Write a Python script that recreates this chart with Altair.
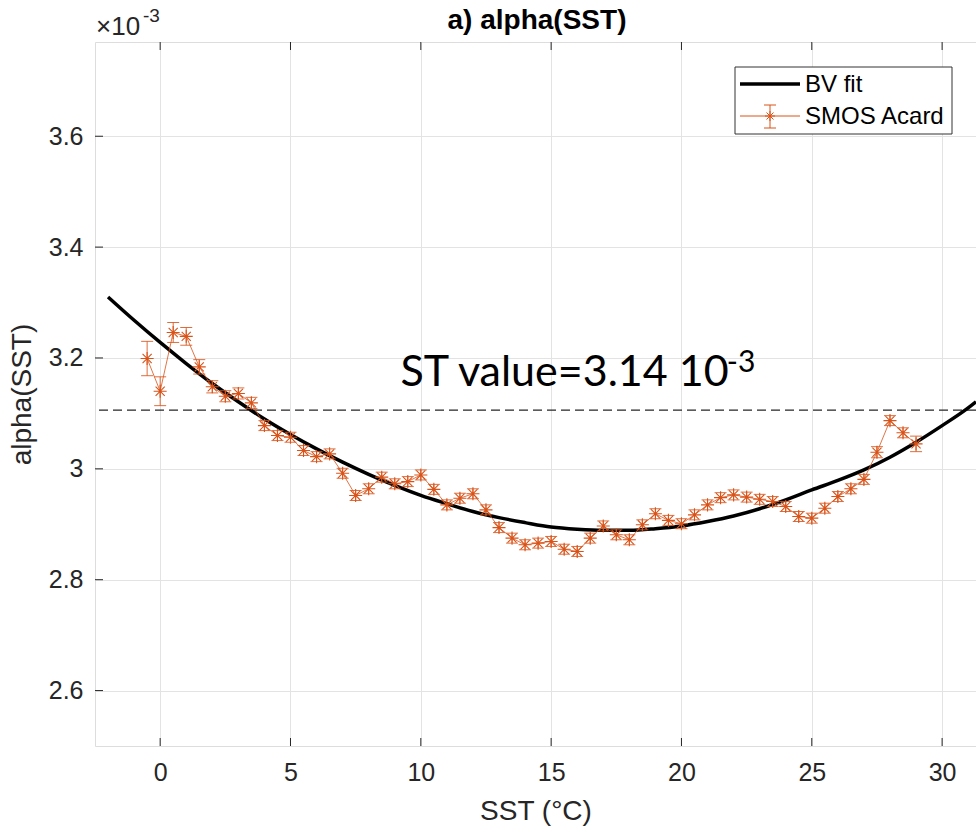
import altair as alt
import pandas as pd

# BV fit curve
fit_x = [-2, -1, 0, 1, 2, 3, 4, 5, 6, 7, 8, 9, 10, 11, 12, 13, 14, 15, 16, 17,
         18, 19, 20, 21, 22, 23, 24, 25, 26, 27, 28, 29, 30, 31, 31.3]
fit_y = [3.310, 3.268, 3.228, 3.190, 3.154, 3.121, 3.090, 3.062, 3.036, 3.012,
         2.990, 2.970, 2.952, 2.937, 2.923, 2.912, 2.903, 2.895, 2.891, 2.889,
         2.889, 2.892, 2.897, 2.905, 2.915, 2.928, 2.944, 2.962, 2.979, 2.998,
         3.021, 3.048, 3.078, 3.110, 3.121]

# SMOS Acard points with error bars
smos_x = [-0.5, 0, 0.5, 1, 1.5, 2, 2.5, 3, 3.5, 4, 4.5, 5, 5.5, 6, 6.5, 7, 7.5, 8,
          8.5, 9, 9.5, 10, 10.5, 11, 11.5, 12, 12.5, 13, 13.5, 14, 14.5, 15, 15.5,
          16, 16.5, 17, 17.5, 18, 18.5, 19, 19.5, 20, 20.5, 21, 21.5, 22, 22.5, 23,
          23.5, 24, 24.5, 25, 25.5, 26, 26.5, 27, 27.5, 28, 28.5, 29]
smos_y = [3.199, 3.140, 3.246, 3.239, 3.184, 3.148, 3.131, 3.136, 3.119, 3.078,
          3.060, 3.057, 3.033, 3.022, 3.027, 2.992, 2.952, 2.964, 2.985, 2.973,
          2.977, 2.989, 2.963, 2.935, 2.947, 2.955, 2.926, 2.894, 2.875, 2.863,
          2.866, 2.869, 2.855, 2.851, 2.875, 2.897, 2.881, 2.872, 2.899, 2.919,
          2.907, 2.901, 2.917, 2.935, 2.948, 2.953, 2.949, 2.945, 2.941, 2.932,
          2.914, 2.911, 2.929, 2.950, 2.964, 2.981, 3.030, 3.087, 3.065, 3.045]
smos_err = [0.031, 0.026, 0.018, 0.016, 0.013, 0.011, 0.010, 0.010, 0.010, 0.009,
            0.009, 0.009, 0.009, 0.009, 0.009, 0.009, 0.009, 0.009, 0.009, 0.009,
            0.009, 0.009, 0.009, 0.009, 0.009, 0.009, 0.009, 0.009, 0.009, 0.009,
            0.009, 0.009, 0.009, 0.009, 0.009, 0.009, 0.009, 0.009, 0.009, 0.009,
            0.009, 0.009, 0.009, 0.009, 0.009, 0.009, 0.009, 0.009, 0.009, 0.009,
            0.009, 0.009, 0.009, 0.009, 0.009, 0.009, 0.010, 0.009, 0.009, 0.014]

st_value = [3.106]
x_ticks = [0, 5, 10, 15, 20, 25, 30]
y_ticks = [2.6, 2.8, 3.0, 3.2, 3.4, 3.6]
series = ["BV fit", "SMOS Acard"]
title_text = "a) alpha(SST)"

fit_df = pd.DataFrame({"x": fit_x, "y": fit_y})
smos_df = pd.DataFrame({"x": smos_x, "y": smos_y, "err": smos_err})
smos_df["lo"] = smos_df["y"] - smos_df["err"]
smos_df["hi"] = smos_df["y"] + smos_df["err"]
st_df = pd.DataFrame({"y": st_value})
xt_df = pd.DataFrame({"x": x_ticks})
yt_df = pd.DataFrame({"y": y_ticks})
ann_df = pd.DataFrame({"x": [9.22], "y": [3.149], "t": ["ST value=3.14 10"]})
sup_df = pd.DataFrame({"x": [21.74], "y": [3.175], "t": ["-3"]})
one = pd.DataFrame({"k": [0]})

FONT = "Liberation Sans"
TXT = "#262626"
ORANGE = "#D95319"

xs = alt.Scale(domain=[-2.5, 31.3], nice=False, zero=False)
ys = alt.Scale(domain=[2.5, 3.77], nice=False, zero=False)

xax = alt.Axis(values=x_ticks, title="SST (°C)", labelFontSize=25, titleFontSize=28,
               labelPadding=14, titlePadding=12, grid=True, ticks=False, domain=False,
               labelColor=TXT, titleColor=TXT, labelFont=FONT, titleFont=FONT,
               titleFontWeight="normal", gridColor="#e3e3e3")
yax = alt.Axis(values=y_ticks, title="alpha(SST)", labelFontSize=25, titleFontSize=28,
               labelPadding=12, titlePadding=12, grid=True, ticks=False, domain=False,
               labelColor=TXT, titleColor=TXT, labelFont=FONT, titleFont=FONT,
               titleFontWeight="normal", gridColor="#e3e3e3",
               labelExpr="datum.value == 3 ? '3' : format(datum.value, '.1f')")

X = alt.X("x:Q", scale=xs, axis=xax)
Y = alt.Y("y:Q", scale=ys, axis=yax)

fit_line = alt.Chart(fit_df).mark_line(strokeWidth=3.5, interpolate="monotone",
                                       clip=True, color="#000000").encode(x=X, y=Y)

smos_line = alt.Chart(smos_df).mark_line(strokeWidth=1, opacity=0.8, color=ORANGE).encode(
    x=alt.X("x:Q", scale=xs), y=alt.Y("y:Q", scale=ys))

err_rule = alt.Chart(smos_df).mark_rule(strokeWidth=1, color=ORANGE, opacity=0.85).encode(
    x=alt.X("x:Q", scale=xs), y=alt.Y("lo:Q", scale=ys), y2="hi:Q")
cap_lo = alt.Chart(smos_df).mark_tick(orient="horizontal", size=12, thickness=1,
                                      color=ORANGE, opacity=0.85).encode(
    x=alt.X("x:Q", scale=xs), y=alt.Y("lo:Q", scale=ys))
cap_hi = alt.Chart(smos_df).mark_tick(orient="horizontal", size=12, thickness=1,
                                      color=ORANGE, opacity=0.85).encode(
    x=alt.X("x:Q", scale=xs), y=alt.Y("hi:Q", scale=ys))

ASTERISK = "M-1,0L1,0M0,-1L0,1M-0.7,-0.7L0.7,0.7M-0.7,0.7L0.7,-0.7"
markers = alt.Chart(smos_df).mark_point(shape=ASTERISK, filled=False, size=170,
                                        strokeWidth=1.1, color=ORANGE, opacity=1).encode(
    x=alt.X("x:Q", scale=xs), y=alt.Y("y:Q", scale=ys))

st_rule = alt.Chart(st_df).mark_rule(strokeDash=[9, 5], strokeWidth=1.2, color="#262626").encode(
    y=alt.Y("y:Q", scale=ys))

# inward tick marks (MATLAB style, bottom/top/left)
tick_b = alt.Chart(xt_df).mark_rule(color=TXT, strokeWidth=1).encode(
    x=alt.X("x:Q", scale=xs), y=alt.value(704), y2=alt.value(696))
tick_t = alt.Chart(xt_df).mark_rule(color=TXT, strokeWidth=1).encode(
    x=alt.X("x:Q", scale=xs), y=alt.value(0), y2=alt.value(8))
tick_l = alt.Chart(yt_df).mark_rule(color=TXT, strokeWidth=1).encode(
    y=alt.Y("y:Q", scale=ys), x=alt.value(0), x2=alt.value(8))

ann = alt.Chart(ann_df).mark_text(align="left", baseline="alphabetic", fontSize=43,
                                  font="Lato", color="#000000").encode(
    x=alt.X("x:Q", scale=xs), y=alt.Y("y:Q", scale=ys), text="t:N")
sup = alt.Chart(sup_df).mark_text(align="left", baseline="alphabetic", fontSize=30,
                                  font="Lato", color="#000000").encode(
    x=alt.X("x:Q", scale=xs), y=alt.Y("y:Q", scale=ys), text="t:N")

# chart title and axis exponent label (decoration above the plot area)
title_mark = alt.Chart(one).mark_text(align="center", baseline="alphabetic", fontSize=28,
                                      font=FONT, fontWeight="bold", color="#000000").encode(
    x=alt.value(442), y=alt.value(-13), text=alt.value(title_text))
exp_main = alt.Chart(one).mark_text(align="left", baseline="alphabetic", fontSize=26,
                                    font=FONT, color=TXT).encode(
    x=alt.value(1), y=alt.value(-7), text=alt.value("×10"))
exp_sup = alt.Chart(one).mark_text(align="left", baseline="alphabetic", fontSize=19,
                                   font=FONT, color=TXT).encode(
    x=alt.value(48), y=alt.value(-20), text=alt.value("-3"))

# legend (drawn as decoration inside the plot area)
leg_box = alt.Chart(one).mark_rect(fill="white", stroke="#333333", strokeWidth=1).encode(
    x=alt.value(640), x2=alt.value(857), y=alt.value(25), y2=alt.value(92))
leg_fit = alt.Chart(one).mark_rule(color="#000000", strokeWidth=3.5).encode(
    x=alt.value(645), x2=alt.value(705), y=alt.value(42))
leg_smos = alt.Chart(one).mark_rule(color=ORANGE, strokeWidth=1).encode(
    x=alt.value(645), x2=alt.value(705), y=alt.value(74))
leg_err = alt.Chart(one).mark_rule(color=ORANGE, strokeWidth=1).encode(
    x=alt.value(675), y=alt.value(63), y2=alt.value(86))
leg_cap1 = alt.Chart(one).mark_rule(color=ORANGE, strokeWidth=1).encode(
    x=alt.value(669), x2=alt.value(681), y=alt.value(63))
leg_cap2 = alt.Chart(one).mark_rule(color=ORANGE, strokeWidth=1).encode(
    x=alt.value(669), x2=alt.value(681), y=alt.value(86))
leg_star = alt.Chart(one).mark_point(shape=ASTERISK, filled=False, size=100,
                                     strokeWidth=1, color=ORANGE, opacity=1).encode(
    x=alt.value(675), y=alt.value(74))
leg_txt1 = alt.Chart(one).mark_text(align="left", baseline="middle", fontSize=24,
                                    font=FONT, color="#000000").encode(
    x=alt.value(710), y=alt.value(43), text=alt.value(series[0]))
leg_txt2 = alt.Chart(one).mark_text(align="left", baseline="middle", fontSize=24,
                                    font=FONT, color="#000000").encode(
    x=alt.value(710), y=alt.value(75), text=alt.value(series[1]))

chart = alt.layer(
    st_rule, tick_b, tick_t, tick_l, fit_line, smos_line, err_rule, cap_lo, cap_hi,
    markers, ann, sup, title_mark, exp_main, exp_sup,
    leg_box, leg_fit, leg_smos, leg_err, leg_cap1, leg_cap2, leg_star, leg_txt1, leg_txt2
).properties(
    width=881, height=704,
    padding={"left": 95, "top": 42, "right": 0, "bottom": 87},
    autosize=alt.AutoSizeParams(type="none"),
).configure_view(
    stroke="#262626", strokeWidth=1
).configure(background="white")

chart.save("out.html", embed_options={"renderer": "svg", "actions": False})
